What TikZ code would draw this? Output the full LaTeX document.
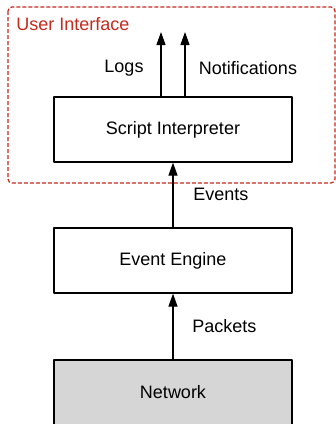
\documentclass[tikz,border=0pt]{standalone}
\usepackage{fontspec}
\setmainfont{Liberation Sans}
\usetikzlibrary{arrows.meta}
\definecolor{uired}{RGB}{196,42,30}
\definecolor{netgray}{RGB}{214,214,214}
\tikzset{
  layer/.style={draw, line width=0.6pt, minimum width=119pt, minimum height=32.5pt,
    inner sep=0pt, font=\fontsize{9}{11}\selectfont},
  flow/.style={line width=0.6pt, -{Triangle[width=4.5pt,length=6.5pt]}},
  flowlabel/.style={font=\fontsize{9}{11}\selectfont, inner sep=0pt}
}
\begin{document}
\begin{tikzpicture}[
    x=0.5pt,
    y=-0.5pt,
    line join=round
  ]
  \useasboundingbox (0,0) rectangle (336,424);

  % user interface region
  \draw[uired, line width=0.6pt, dash pattern=on 2pt off 1pt, rounded corners=2pt]
    (8,7) rectangle (335,183);
  \node[anchor=base west, text=uired, flowlabel] (uilabel) at (16,30) {User Interface};

  % layers
  \node[layer] (interp) at (173,129.5) {Script Interpreter};
  \node[layer] (engine) at (173,260.5) {Event Engine};
  \node[layer, fill=netgray] (network) at (173,392.5) {Network};

  % outputs
  \coordinate (logsend) at (161,32);
  \coordinate (notifend) at (185,32);
  \draw[flow] (interp.north -| logsend) -- (logsend);
  \draw[flow] (interp.north -| notifend) -- (notifend);
  \node[flowlabel] (logs) at (124,68) {Logs};
  \node[flowlabel] (notif) at (248,68) {Notifications};

  % inputs
  \draw[flow] (engine) -- (interp);
  \node[flowlabel, anchor=west] (events) at (193,194) {Events};
  \draw[flow] (network) -- (engine);
  \node[flowlabel, anchor=west] (packets) at (192,326) {Packets};
\end{tikzpicture}
\end{document}
